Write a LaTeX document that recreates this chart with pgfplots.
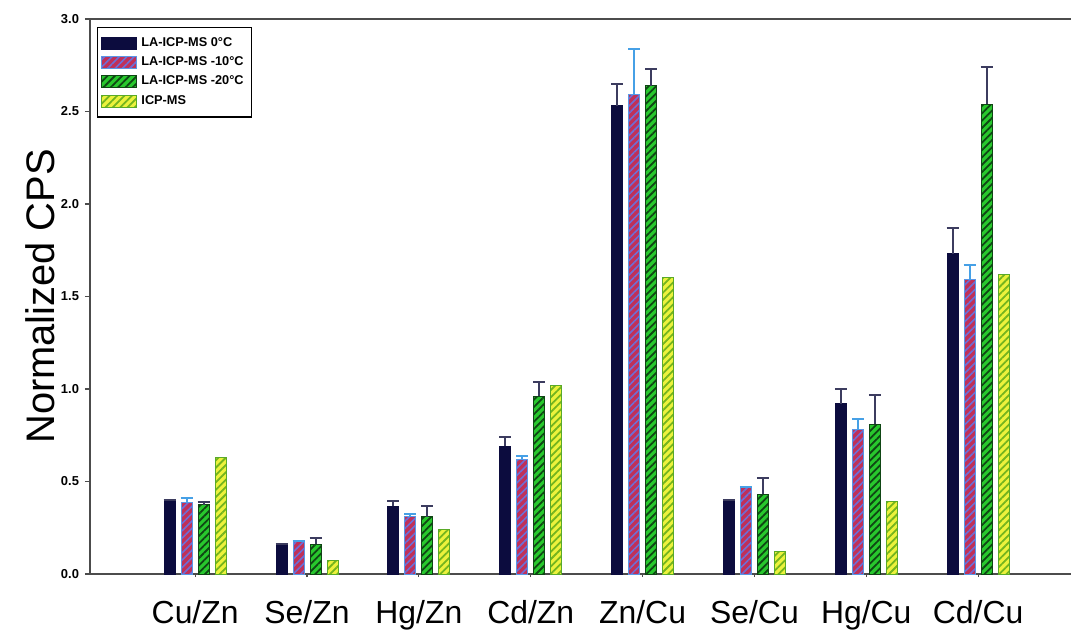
\documentclass[border=0pt]{standalone}
\usepackage{fontspec}
\setmainfont{Liberation Sans}
\usepackage{pgfplots}
\usepackage{pgfplotstable}
\pgfplotsset{compat=1.18}
\usetikzlibrary{patterns.meta}

\definecolor{navy}{RGB}{12,12,62}
\definecolor{crim}{RGB}{192,48,88}
\definecolor{crimline}{RGB}{110,110,215}
\definecolor{crimedge}{RGB}{90,150,230}
\definecolor{grn}{RGB}{40,200,45}
\definecolor{grnline}{RGB}{15,70,20}
\definecolor{yel}{RGB}{236,242,60}
\definecolor{yelline}{RGB}{115,180,30}
\definecolor{yeledge}{RGB}{90,170,40}
\definecolor{errblue}{RGB}{70,160,230}
\definecolor{errnavy}{RGB}{60,60,95}

\pgfplotstableread{
x y e
0 0.40 0
1 0.16 0
2 0.365 0.03
3 0.69 0.05
4 2.53 0.12
5 0.40 0
6 0.92 0.08
7 1.73 0.14
}\dataA
\pgfplotstableread{
x y e
0 0.385 0.025
1 0.175 0.005
2 0.31 0.015
3 0.62 0.02
4 2.59 0.25
5 0.465 0.005
6 0.78 0.06
7 1.59 0.08
}\dataB
\pgfplotstableread{
x y e
0 0.375 0.015
1 0.16 0.035
2 0.31 0.06
3 0.96 0.08
4 2.64 0.09
5 0.43 0.09
6 0.81 0.16
7 2.54 0.20
}\dataC
\pgfplotstableread{
x y
0 0.63
1 0.075
2 0.24
3 1.02
4 1.60
5 0.12
6 0.39
7 1.62
}\dataD

\begin{document}
\begin{tikzpicture}
\begin{axis}[
  scale only axis,
  width=490.5bp, height=277.5bp,
  xmin=-0.94, xmax=7.83,
  ymin=0, ymax=3,
  ytick={0,0.5,...,3.0},
  axis x line*=box, axis y line*=left,
  axis line style={black!70, line width=1bp},
  xtick=data,
  xticklabels={Cu/Zn,Se/Zn,Hg/Zn,Cd/Zn,Zn/Cu,Se/Cu,Hg/Cu,Cd/Cu},
  xtick pos=bottom,
  tick align=outside,
  major tick length=2.5bp,
  xtick style={black!70, line width=0.6bp, /pgfplots/major tick length=1.5bp},
  ytick style={black!70, line width=0.8bp},
  xticklabel style={font=\fontsize{16}{18}\selectfont, yshift=-7bp},
  yticklabel style={font=\fontsize{6.5}{7}\selectfont\bfseries, xshift=0.5bp},
  /pgf/number format/assume math mode=true,
  yticklabel={\pgfmathprintnumber[fixed,fixed zerofill,precision=1]{\tick}},
  ylabel={Normalized CPS},
  every axis y label/.style={at={(axis description cs:-0.051,0.5)}, rotate=90, anchor=center, font=\fontsize{20}{22}\selectfont},
  ybar=3bp,
  bar width=5.5bp,
  legend style={at={(axis description cs:0.007,0.986)}, anchor=north west,
    draw=black, line width=0.6bp, font=\fontsize{6.4}{7}\selectfont\bfseries,
    row sep=-0.3bp, inner sep=2bp, inner ysep=3bp},
  legend cell align=left,
  legend image code/.code={\draw[#1] (0bp,-3bp) rectangle (17.5bp,3bp);},
  clip=false,
]
\addplot[fill=navy, draw=navy, line width=0.5bp,
  error bars/.cd, y dir=plus, y explicit,
  error bar style={errnavy, line width=1bp},
  error mark options={errnavy, line width=1bp, mark size=3bp, rotate=90}]
  table[x=x, y=y, y error=e] {\dataA};
\addplot[fill=crim, draw=crimedge, line width=0.5bp,
  postaction={pattern={Lines[angle=45,distance=2.6bp,line width=0.8bp]}, pattern color=crimline},
  error bars/.cd, y dir=plus, y explicit,
  error bar style={errblue, line width=1bp},
  error mark options={errblue, line width=1bp, mark size=3bp, rotate=90}]
  table[x=x, y=y, y error=e] {\dataB};
\addplot[fill=grn, draw=grnline, line width=0.5bp,
  postaction={pattern={Lines[angle=45,distance=2.6bp,line width=0.9bp]}, pattern color=grnline},
  error bars/.cd, y dir=plus, y explicit,
  error bar style={errnavy, line width=1bp},
  error mark options={errnavy, line width=1bp, mark size=3bp, rotate=90}]
  table[x=x, y=y, y error=e] {\dataC};
\addplot[fill=yel, draw=yeledge, line width=0.5bp,
  postaction={pattern={Lines[angle=45,distance=2.6bp,line width=0.9bp]}, pattern color=yelline}]
  table[x=x, y=y] {\dataD};
\legend{LA-ICP-MS 0°C, LA-ICP-MS -10°C, LA-ICP-MS -20°C, ICP-MS}
\end{axis}
\pgfresetboundingbox
\path ([xshift=-45bp,yshift=-29bp]current axis.south west) rectangle ([yshift=9.5bp]current axis.north east);
\end{tikzpicture}
\end{document}
